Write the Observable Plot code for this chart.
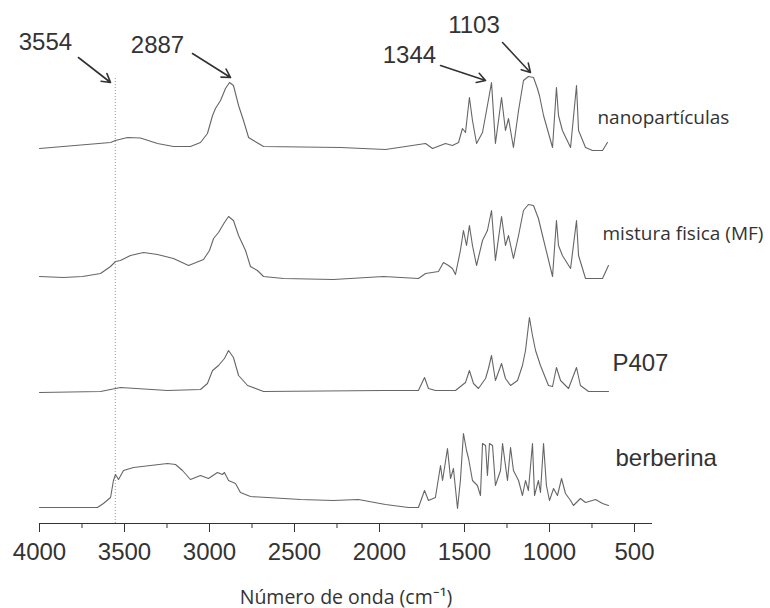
<!DOCTYPE html>
<html>
<head>
<meta charset="utf-8">
<script src="https://cdn.jsdelivr.net/npm/d3@7"></script>
<script src="https://cdn.jsdelivr.net/npm/@observablehq/plot@0.6"></script>
<style>
  html, body { margin: 0; padding: 0; background: #fff; }
  svg { display: block; }
</style>
</head>
<body>
<script>
// ---- Data ----
const seriesNames = ["nanopartículas", "mistura fisica (MF)", "P407", "berberina"];
// vertical stacking offsets (a.u.)
const seriesOffsets = [37.5, 24.6, 13.2, 1.6];

const nanoWn = [4000,3582,3554,3482,3406,3306,3212,3112,3053,3012,2982,2965,2935,2906,2882,2859,2829,2800,2770,2741,2712,2682,2229,1965,1729,1688,1612,1571,1535,1512,1494,1471,1453,1429,1394,1365,1341,1318,1282,1259,1241,1212,1182,1153,1124,1094,1071,1059,1035,982,959,947,924,876,841,829,788,747,688,659];
const nanoAbs = [0,0.6,0.8,1.1,1.05,0.5,0.2,0.2,0.6,1.5,3.3,4.0,4.8,6.0,6.6,6.3,4.3,2.8,1.1,0.8,0.5,0.2,0.1,-0.1,0.5,0,0.5,0.3,0.6,2.0,1.6,5.1,2.8,0.5,1.6,4.3,6.6,0.5,5.1,1.8,3.0,0.1,3.8,6.8,7.2,7.1,6.0,5.3,3.3,0.1,6.1,3.3,1.8,0.1,6.3,1.8,0.1,-0.2,-0.2,0.6];

const mfWn = [4000,3859,3747,3641,3582,3553,3524,3465,3388,3306,3212,3123,3035,3000,2976,2947,2912,2888,2859,2829,2788,2759,2718,2682,2565,2271,1976,1771,1729,1653,1624,1594,1571,1553,1524,1506,1488,1471,1453,1429,1394,1365,1341,1318,1282,1259,1241,1212,1182,1153,1124,1094,1065,1041,982,959,947,924,876,841,829,788,688,653];
const mfAbs = [0.1,0,0.1,0.4,1.1,1.6,1.7,2.2,2.5,2.3,1.9,1.2,1.8,2.7,3.9,4.5,5.5,6.1,5.7,4.2,2.7,1.1,0.7,0.1,-0.1,-0.2,0.1,-0.1,0.4,0.6,1.5,1.2,0.9,0.3,2.7,4.7,3.2,5.2,3.2,1.2,3.7,4.7,6.7,1.7,6.1,3.2,4.2,1.9,4.2,6.7,7.3,7.2,5.9,4.2,0.1,5.7,3.2,2.2,0.9,5.7,2.2,-0.1,-0.1,1.2];

const p407Wn = [4000,3641,3553,3524,3247,3053,3012,2982,2947,2912,2888,2859,2829,2776,2682,1976,1771,1735,1712,1671,1553,1494,1471,1447,1418,1376,1359,1341,1318,1282,1259,1229,1188,1159,1141,1118,1100,1082,1053,1006,982,959,935,888,841,818,770,653];
const p407Abs = [-0.1,0,0.3,0.4,0.1,0.2,0.8,2.1,2.6,3.3,4.1,3.4,1.6,0.6,0,0.1,0.1,1.4,0.3,0.1,0.1,0.9,2.1,0.8,0.3,1.3,2.3,3.6,1.1,2.8,1.3,0.6,1.1,2.6,4.1,7.4,5.6,4.1,2.6,0.6,0.5,2.4,1.1,0.3,2.4,0.6,0,0];

const berbWn = [4000,3659,3624,3582,3565,3553,3535,3506,3447,3347,3247,3200,3159,3112,3053,3006,2953,2924,2912,2888,2847,2818,2759,2659,2465,2271,2124,1965,1829,1771,1735,1712,1671,1641,1629,1600,1582,1565,1541,1524,1506,1488,1476,1453,1424,1406,1394,1376,1365,1353,1335,1318,1288,1276,1259,1247,1229,1212,1182,1159,1141,1124,1100,1088,1065,1053,1035,1018,1000,976,953,929,906,876,859,818,788,729,688,653];
const berbAbs = [0,0,0.4,1.0,2.7,3.3,2.8,3.7,4.0,4.2,4.4,4.3,3.7,2.8,3.2,2.9,3.5,3.3,3.5,2.7,2.4,1.5,1.1,1.0,0.8,0.7,0.8,0.3,0,0,1.7,0.7,1.0,4.2,2.7,5.9,2.9,3.9,-0.1,2.7,7.4,5.7,4.9,2.7,2.2,1.2,6.4,6.2,3.2,6.4,6.2,2.2,3.7,6.4,4.2,2.7,6.0,3.7,2.7,1.2,2.7,1.7,6.4,1.2,2.7,1.5,6.4,2.2,0.7,1.9,1.2,2.9,1.4,0.7,0.2,0.9,0.5,0.8,0.4,0.2];

// x axis ticks
const majorTicks = [4000, 3500, 3000, 2500, 2000, 1500, 1000, 500];
const minorTicks = [3750, 3250, 2750, 2250, 1750, 1250, 750];
const xDomain = [4000, 394];

// peak annotations
const annotLabels = ["3554", "2887", "1344", "1103"];
const annotTextWn = [3965, 3306, 1824, 1444];
const annotTextY  = [48.15, 47.85, 46.8, 49.8];
const arrowFromWn = [3771, 3100, 1641, 1276];
const arrowFromY  = [46.6, 47.0, 45.8, 48.1];
const arrowToWn   = [3582, 2876, 1376, 1112];
const arrowToY    = [44.1, 44.6, 44.3, 45.1];

// reference line at 3554
const refLineWn = 3554;
const refLineTop = 44.5;

// series label positions
const labelWn = [718, 688, 630, 612];
const labelY = [40.6, 29.0, 16.05, 6.56];

const axisTitle = "Número de onda (cm⁻¹)";

// ---- Build tables ----
const wnArrays = [nanoWn, mfWn, p407Wn, berbWn];
const absArrays = [nanoAbs, mfAbs, p407Abs, berbAbs];
const spectra = [];
seriesNames.forEach((name, i) => {
  wnArrays[i].forEach((wn, j) => {
    spectra.push({name, wn, v: seriesOffsets[i] + absArrays[i][j]});
  });
});
const annots = annotLabels.map((t, i) => ({
  t, x: annotTextWn[i], y: annotTextY[i],
  x1: arrowFromWn[i], y1: arrowFromY[i], x2: arrowToWn[i], y2: arrowToY[i]
}));
const labels = seriesNames.map((t, i) => ({t, x: labelWn[i], y: labelY[i], sans: i < 2}));

const chart = Plot.plot({
  width: 770,
  height: 608,
  marginLeft: 39,
  marginRight: 118,
  marginTop: 0,
  marginBottom: 85,
  style: {background: "#fff"},
  x: {domain: xDomain},
  y: {domain: [0, 52.3], axis: null},
  marks: [
    Plot.ruleX([refLineWn], {y1: 0, y2: refLineTop, stroke: "#999", strokeWidth: 1, strokeDasharray: "1,2"}),
    Plot.line(spectra, {x: "wn", y: "v", z: "name", stroke: "#666", strokeWidth: 1.1}),
    Plot.ruleY([0], {stroke: "#333", strokeWidth: 1.2}),
    Plot.axisX({ticks: majorTicks, tickSize: 9, tickPadding: 10, fontSize: 24, fontFamily: "Liberation Sans, Arial, sans-serif", tickFormat: d => String(d), stroke: "#333", fill: "#333", label: null}),
    Plot.axisX({ticks: minorTicks, tickSize: 5, tickFormat: () => "", stroke: "#333", label: null}),
    Plot.text([axisTitle], {frameAnchor: "bottom", dy: 80, fontSize: 19.5, fontFamily: "Open Sans", fill: "#333", text: d => d}),
    Plot.arrow(annots, {x1: "x1", y1: "y1", x2: "x2", y2: "y2", stroke: "#333", strokeWidth: 1.6, headLength: 9}),
    Plot.text(annots, {x: "x", y: "y", text: "t", fontSize: 24, fontFamily: "Liberation Sans, Arial, sans-serif", fill: "#333"}),
    Plot.text(labels.filter(d => d.sans), {x: "x", y: "y", text: "t", textAnchor: "start", fontSize: 19, fontFamily: "Open Sans", fill: "#333"}),
    Plot.text(labels.filter(d => !d.sans), {x: "x", y: "y", text: "t", textAnchor: "start", fontSize: 24, fontFamily: "Liberation Sans, Arial, sans-serif", fill: "#333"})
  ]
});
document.body.appendChild(chart);
</script>
</body>
</html>
